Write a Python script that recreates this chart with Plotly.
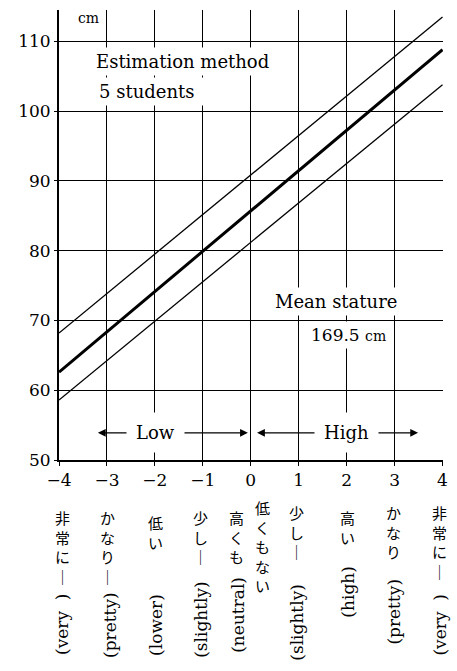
import plotly.graph_objects as go

# ---- data ----
scale_x = [-4, 4]
mean_line = [62.6, 108.8]
upper_line = [68.2, 113.5]
lower_line = [58.6, 103.8]

x_ticks = [-4, -3, -2, -1, 0, 1, 2, 3, 4]
x_ticktext = ["−4", "−3", "−2", "−1", "0", "1", "2", "3", "4"]
y_ticks = [50, 60, 70, 80, 90, 100, 110]

jp_labels = ["非常に｜", "かなり｜", "低い", "少し｜", "高くも", "少し｜", "高い", "かなり", "非常に｜"]
jp_extra = "低くもない"
en_labels = ["(very  )", "(pretty)", "(lower)", "(slightly)", "(neutral)",
             "(slightly)", "(high)", "(pretty)", "(very  )"]

# ---- layout constants ----
W, H = 457, 671
L, R, T, B = 59, 9, 10, 211
PH = H - T - B
SERIF = "DejaVu Serif"
JP = "Noto Sans CJK JP"


def py(pix):
    """pixel row -> paper y"""
    return (H - B - pix) / PH


fig = go.Figure()
fig.add_trace(go.Scatter(x=scale_x, y=upper_line, mode="lines",
                         line=dict(color="black", width=1.3), showlegend=False))
fig.add_trace(go.Scatter(x=scale_x, y=lower_line, mode="lines",
                         line=dict(color="black", width=1.3), showlegend=False))
fig.add_trace(go.Scatter(x=scale_x, y=mean_line, mode="lines",
                         line=dict(color="black", width=3), showlegend=False))

ann = []
# arrows for Low / High
arrow_y = 53.9
for (a, b) in [(-3.22, -0.06), (0.1, 3.49)]:
    ann.append(dict(x=b, y=arrow_y, ax=a, ay=arrow_y, xref="x", yref="y",
                    axref="x", ayref="y", text="", showarrow=True,
                    arrowhead=2, startarrowhead=2, arrowside="end+start",
                    arrowsize=1.3, startarrowsize=1.3, arrowwidth=1.2,
                    arrowcolor="black", standoff=0, startstandoff=0))
for txt, xc in [("Low", -1.98), ("High", 2.0)]:
    ann.append(dict(x=xc, y=arrow_y, xref="x", yref="y", text=txt,
                    showarrow=False, bgcolor="white", borderpad=9,
                    font=dict(family=SERIF, size=18, color="black")))

# text boxes
ann.append(dict(x=-3.32, y=107.1, xref="x", yref="y", xanchor="left",
                text="Estimation method", showarrow=False, bgcolor="white",
                borderpad=3, font=dict(family=SERIF, size=18, color="black")))
ann.append(dict(x=-3.24, y=102.8, xref="x", yref="y", xanchor="left",
                text="5 students", showarrow=False, bgcolor="white", width=120,
                align="left", borderpad=3,
                font=dict(family=SERIF, size=18, color="black")))
ann.append(dict(x=1.78, y=72.7, xref="x", yref="y", text="Mean stature",
                showarrow=False, bgcolor="white", borderpad=3,
                font=dict(family=SERIF, size=18, color="black")))
ann.append(dict(x=2.03, y=67.9, xref="x", yref="y",
                text="169.5 <span style='font-size:14px'>cm</span>",
                showarrow=False, bgcolor="white", borderpad=3,
                font=dict(family=SERIF, size=17, color="black")))
ann.append(dict(x=-3.38, y=113.4, xref="x", yref="y", text="cm",
                showarrow=False, font=dict(family=SERIF, size=14, color="black")))

# category labels under the axis
jp_shift = [3, 1, 1, -2, -14, -2, 1, -1, -3]
jp_top = [505, 505, 510, 505, 505, 500, 505, 500, 500]
en_shift = [3, 3, 1, -2, -13, -2, 1, -1, -3]
en_mid = [625, 625, 625, 619, 615, 622, 592, 612, 625]
for i, xv in enumerate(x_ticks):
    ann.append(dict(x=xv, y=py(jp_top[i]), xref="x", yref="paper",
                    xanchor="center", yanchor="top", xshift=jp_shift[i],
                    text="<br>".join(jp_labels[i]), showarrow=False,
                    font=dict(family=JP, size=15, color="black")))
    ann.append(dict(x=xv, y=py(en_mid[i]), xref="x", yref="paper",
                    xanchor="center", yanchor="middle", xshift=en_shift[i],
                    text=en_labels[i], textangle=-90, showarrow=False,
                    font=dict(family=SERIF, size=17, color="black")))
ann.append(dict(x=0, y=py(495), xref="x", yref="paper", xanchor="center",
                yanchor="top", xshift=12, text="<br>".join(jp_extra),
                showarrow=False, font=dict(family=JP, size=15, color="black")))

fig.update_layout(
    width=W, height=H,
    margin=dict(l=L, r=R, t=T, b=B),
    paper_bgcolor="white", plot_bgcolor="white",
    annotations=ann,
    xaxis=dict(range=[-4, 4.01], tickvals=x_ticks, ticktext=x_ticktext,
               showgrid=True, gridcolor="black", gridwidth=1.3,
               showline=True, linecolor="black", linewidth=2,
               ticks="outside", ticklen=4, tickcolor="black", tickwidth=1.3,
               zeroline=False, fixedrange=True,
               tickfont=dict(family=SERIF, size=17, color="black")),
    yaxis=dict(range=[50, 114.5], tickvals=y_ticks,
               showgrid=True, gridcolor="black", gridwidth=1.3,
               showline=True, linecolor="black", linewidth=2,
               ticks="outside", ticklen=3, tickcolor="black", tickwidth=1.3,
               zeroline=False, fixedrange=True,
               tickfont=dict(family=SERIF, size=17, color="black")),
)

fig.write_html("out.html")
